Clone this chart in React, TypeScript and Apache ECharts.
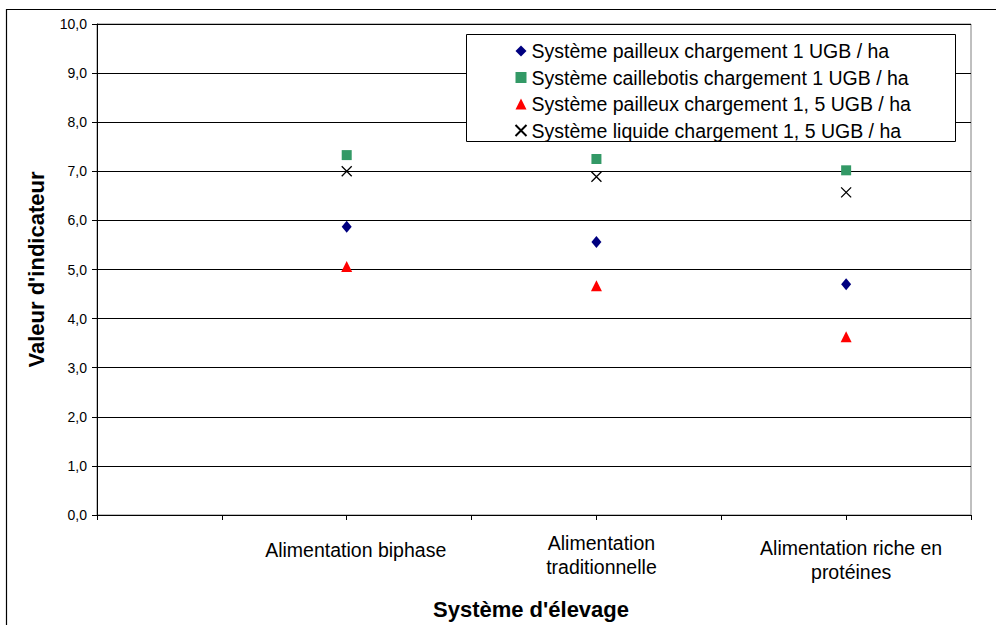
import React, { useEffect, useRef } from "react";
import * as echarts from "echarts";

const categories = [
  "Alimentation biphase",
  "Alimentation traditionnelle",
  "Alimentation riche en protéines",
];
const seriesNames = [
  "Système pailleux chargement 1 UGB / ha",
  "Système caillebotis chargement 1 UGB / ha",
  "Système pailleux chargement 1, 5 UGB / ha",
  "Système liquide chargement 1, 5 UGB / ha",
];
const pailleux1 = [5.87, 5.56, 4.7];
const caillebotis1 = [7.33, 7.25, 7.02];
const pailleux15 = [5.06, 4.67, 3.63];
const liquide15 = [7.0, 6.89, 6.57];
const yTicks = [0, 1, 2, 3, 4, 5, 6, 7, 8, 9, 10];

const FONT = "'Liberation Sans', Arial, sans-serif";

export default function App() {
  const ref = useRef<HTMLDivElement>(null);
  useEffect(() => {
    if (!ref.current) return;
    const chart = echarts.init(ref.current, null, { renderer: "svg" });
    const toPts = (arr: number[]) => arr.map((v, i) => [i + 1, v]);
    const labelFor = (v: number) => {
      if (Math.abs(v - 1) < 1e-6) return "{b|" + categories[0] + "}";
      if (Math.abs(v - 2) < 1e-6) {
        const parts = categories[1].split(" ");
        return "{t|" + parts[0] + "}\n{t|" + parts.slice(1).join(" ") + "}";
      }
      if (Math.abs(v - 3) < 1e-6) {
        const words = categories[2].split(" ");
        return "{r1|" + words.slice(0, 3).join(" ") + "}\n{r2|" + words.slice(3).join(" ") + "}";
      }
      return "";
    };
    const richBase = { fontFamily: FONT, fontSize: 19.5, color: "#000" };
    chart.setOption({
      animation: false,
      textStyle: { fontFamily: FONT },
      grid: {
        left: 97,
        top: 24,
        right: 25,
        bottom: 106,
        show: true,
        borderColor: "#808080",
        borderWidth: 1,
        backgroundColor: "transparent",
      },
      legend: {
        orient: "vertical",
        left: 513,
        top: 41,
        padding: 0,
        itemWidth: 11,
        itemHeight: 11,
        itemGap: 6.5,
        z: 10,
        textStyle: { fontFamily: FONT, fontSize: 19.5, color: "#000" },
        data: seriesNames,
      },
      graphic: [
        {
          type: "rect",
          shape: { x: 6.5, y: 9.5, width: 1200, height: 1000 },
          style: { fill: "none", stroke: "#000", lineWidth: 1.2 },
          silent: true,
          z: -10,
        },
        {
          type: "rect",
          shape: { x: 466.5, y: 34.5, width: 489, height: 107 },
          style: { fill: "#fff", stroke: "#000", lineWidth: 1 },
          silent: true,
          z: 1,
        },
      ],
      xAxis: {
        type: "value",
        min: 0,
        max: 3.5,
        interval: 0.5,
        name: "Système d'élevage",
        nameLocation: "middle",
        nameGap: 83,
        nameTextStyle: { fontFamily: FONT, fontSize: 22, fontWeight: "bold", color: "#000", padding: [0, 6, 0, 0] },
        axisLine: { show: true, onZero: false, lineStyle: { color: "#000", width: 1 } },
        axisTick: { show: true, inside: false, length: 5, lineStyle: { color: "#000" } },
        splitLine: { show: false },
        axisLabel: {
          margin: 16,
          padding: [0, 0, 0, 10],
          formatter: (v: number) => labelFor(v),
          rich: {
            b: { ...richBase, lineHeight: 38, padding: [0, 0, 0, 8] },
            t: { ...richBase, lineHeight: 24 },
            r1: { ...richBase, lineHeight: 34 },
            r2: { ...richBase, lineHeight: 14 },
          },
        },
      },
      yAxis: {
        type: "value",
        min: yTicks[0],
        max: yTicks[yTicks.length - 1],
        interval: 1,
        name: "Valeur d'indicateur",
        nameLocation: "middle",
        nameGap: 50,
        nameTextStyle: { fontFamily: FONT, fontSize: 22, fontWeight: "bold", color: "#000" },
        axisLine: { show: true, lineStyle: { color: "#000", width: 1 } },
        axisTick: { show: true, inside: false, length: 5, lineStyle: { color: "#000" } },
        splitLine: { show: true, lineStyle: { color: "#000", width: 1 } },
        axisLabel: {
          margin: 10,
          fontFamily: FONT,
          fontSize: 14,
          color: "#000",
          formatter: (v: number) => v.toFixed(1).replace(".", ","),
        },
      },
      series: [
        {
          name: seriesNames[0],
          type: "scatter",
          symbol: "diamond",
          symbolSize: [10, 12],
          itemStyle: { color: "#000080", opacity: 1 },
          data: toPts(pailleux1),
          z: 3,
        },
        {
          name: seriesNames[1],
          type: "scatter",
          symbol: "rect",
          symbolSize: 10,
          itemStyle: { color: "#339966", opacity: 1 },
          data: toPts(caillebotis1),
          z: 3,
        },
        {
          name: seriesNames[2],
          type: "scatter",
          symbol: "triangle",
          symbolSize: [11, 11],
          itemStyle: { color: "#ff0000", opacity: 1 },
          data: toPts(pailleux15),
          z: 3,
        },
        {
          name: seriesNames[3],
          type: "scatter",
          symbol: "path://M0,0L10,10M10,0L0,10",
          symbolSize: 10,
          itemStyle: { color: "none", borderColor: "#000", borderWidth: 1.3, opacity: 1 },
          data: toPts(liquide15),
          z: 3,
        },
      ],
    });
    return () => chart.dispose();
  }, []);
  return (
    <div
      ref={ref}
      style={{ position: "absolute", left: 0, top: 0, width: 996, height: 625, background: "#fff" }}
    />
  );
}
